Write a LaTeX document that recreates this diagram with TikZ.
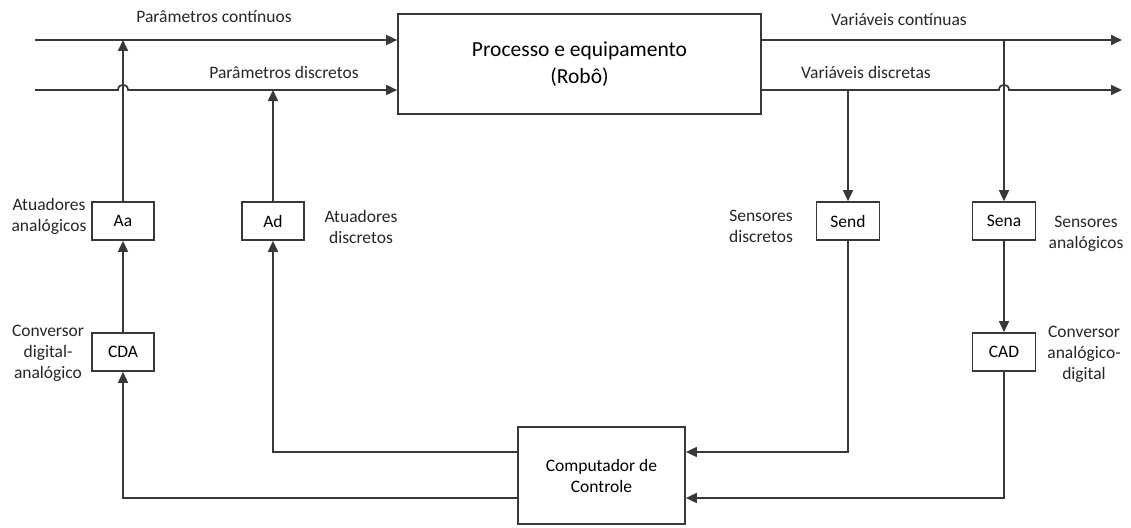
\documentclass[tikz,border=0pt]{standalone}
\usepackage{fontspec}
\setmainfont{Carlito}
\usetikzlibrary{arrows.meta,calc}
\begin{document}
\begin{tikzpicture}[x=1pt,y=-1pt,
  ln/.style={draw=black!78,line width=1.7pt},
  arr/.style={ln,-{Triangle[length=11pt,width=10pt]}},
  blk/.style={draw=black!78,line width=1.7pt,fill=white,inner sep=0pt,font=\fontsize{17.5}{21}\selectfont},
  lbl/.style={align=center,inner sep=0pt,font=\fontsize{17.5}{21}\selectfont,text=black!85}]
\useasboundingbox (0,0) rectangle (1131,527);
% blocks
\node[blk,minimum width=363pt,minimum height=100pt,align=center,font=\fontsize{21.5}{27}\selectfont] (proc) at (579.5,64) {Processo e equipamento\\(Robô)};
\node[blk,minimum width=62pt,minimum height=38pt] (Aa) at (123,221) {Aa};
\node[blk,minimum width=62pt,minimum height=38pt] (Ad) at (273,221) {Ad};
\node[blk,minimum width=63pt,minimum height=38pt] (Send) at (848,221) {Send};
\node[blk,minimum width=63pt,minimum height=38pt] (Sena) at (1004,221) {Sena};
\node[blk,minimum width=62pt,minimum height=38pt] (CDA) at (123,352) {CDA};
\node[blk,minimum width=63pt,minimum height=38pt] (CAD) at (1004,352) {CAD};
\node[blk,minimum width=167pt,minimum height=97pt,align=center] (comp) at (601.5,475.5) {Computador de\\Controle};
% free ends
\coordinate (inC) at (35,40);
\coordinate (inD) at (35,90);
\coordinate (outC) at (1122,40);
\coordinate (outD) at (1122,90);
\coordinate (cU) at (0,452);
\coordinate (cL) at (0,498);
% input lines
\draw[arr] (inC) -- (inC -| proc.west);
\draw[arr] (inD) -- ($(inD -| Aa)+(-5,0)$) .. controls ($(inD -| Aa)+(-5,-7)$) and ($(inD -| Aa)+(5,-7)$) .. ($(inD -| Aa)+(5,0)$) -- (inD -| proc.west);
% output lines
\draw[arr] (outC -| proc.east) -- (outC);
\draw[arr] (outD -| proc.east) -- ($(outD -| Sena)+(-5,0)$) .. controls ($(outD -| Sena)+(-5,-7)$) and ($(outD -| Sena)+(5,-7)$) .. ($(outD -| Sena)+(5,0)$) -- (outD);
% actuators
\draw[arr] (Aa.north) -- (Aa |- inC);
\draw[arr] (Ad.north) -- (Ad |- inD);
\draw[arr] (CDA.north) -- (Aa.south);
% sensors
\draw[arr] (Send |- outD) -- (Send.north);
\draw[arr] (Sena |- outC) -- (Sena.north);
\draw[arr] (Sena.south) -- (CAD.north);
% feedback
\draw[arr] (Send.south) -- (Send |- cU) -- (cU -| comp.east);
\draw[arr] (CAD.south) -- (CAD |- cL) -- (cL -| comp.east);
\draw[arr] (cU -| comp.west) -- (Ad |- cU) -- (Ad.south);
\draw[arr] (cL -| comp.west) -- (CDA |- cL) -- (CDA.south);
% labels
\node[lbl] (l1) at (214,17) {Parâmetros contínuos};
\node[lbl] (l2) at (284,72) {Parâmetros discretos};
\node[lbl] (l3) at (899,20) {Variáveis contínuas};
\node[lbl] (l4) at (866,72) {Variáveis discretas};
\node[lbl] (l5) at (49,216) {Atuadores\\analógicos};
\node[lbl] (l6) at (361,227) {Atuadores\\discretos};
\node[lbl] (l7) at (48,353) {Conversor\\digital-\\analógico};
\node[lbl] (l8) at (761,226) {Sensores\\discretos};
\node[lbl] (l9) at (1086,234) {Sensores\\analógicos};
\node[lbl] (l10) at (1084,354) {Conversor\\analógico-\\digital};
\end{tikzpicture}
\end{document}
